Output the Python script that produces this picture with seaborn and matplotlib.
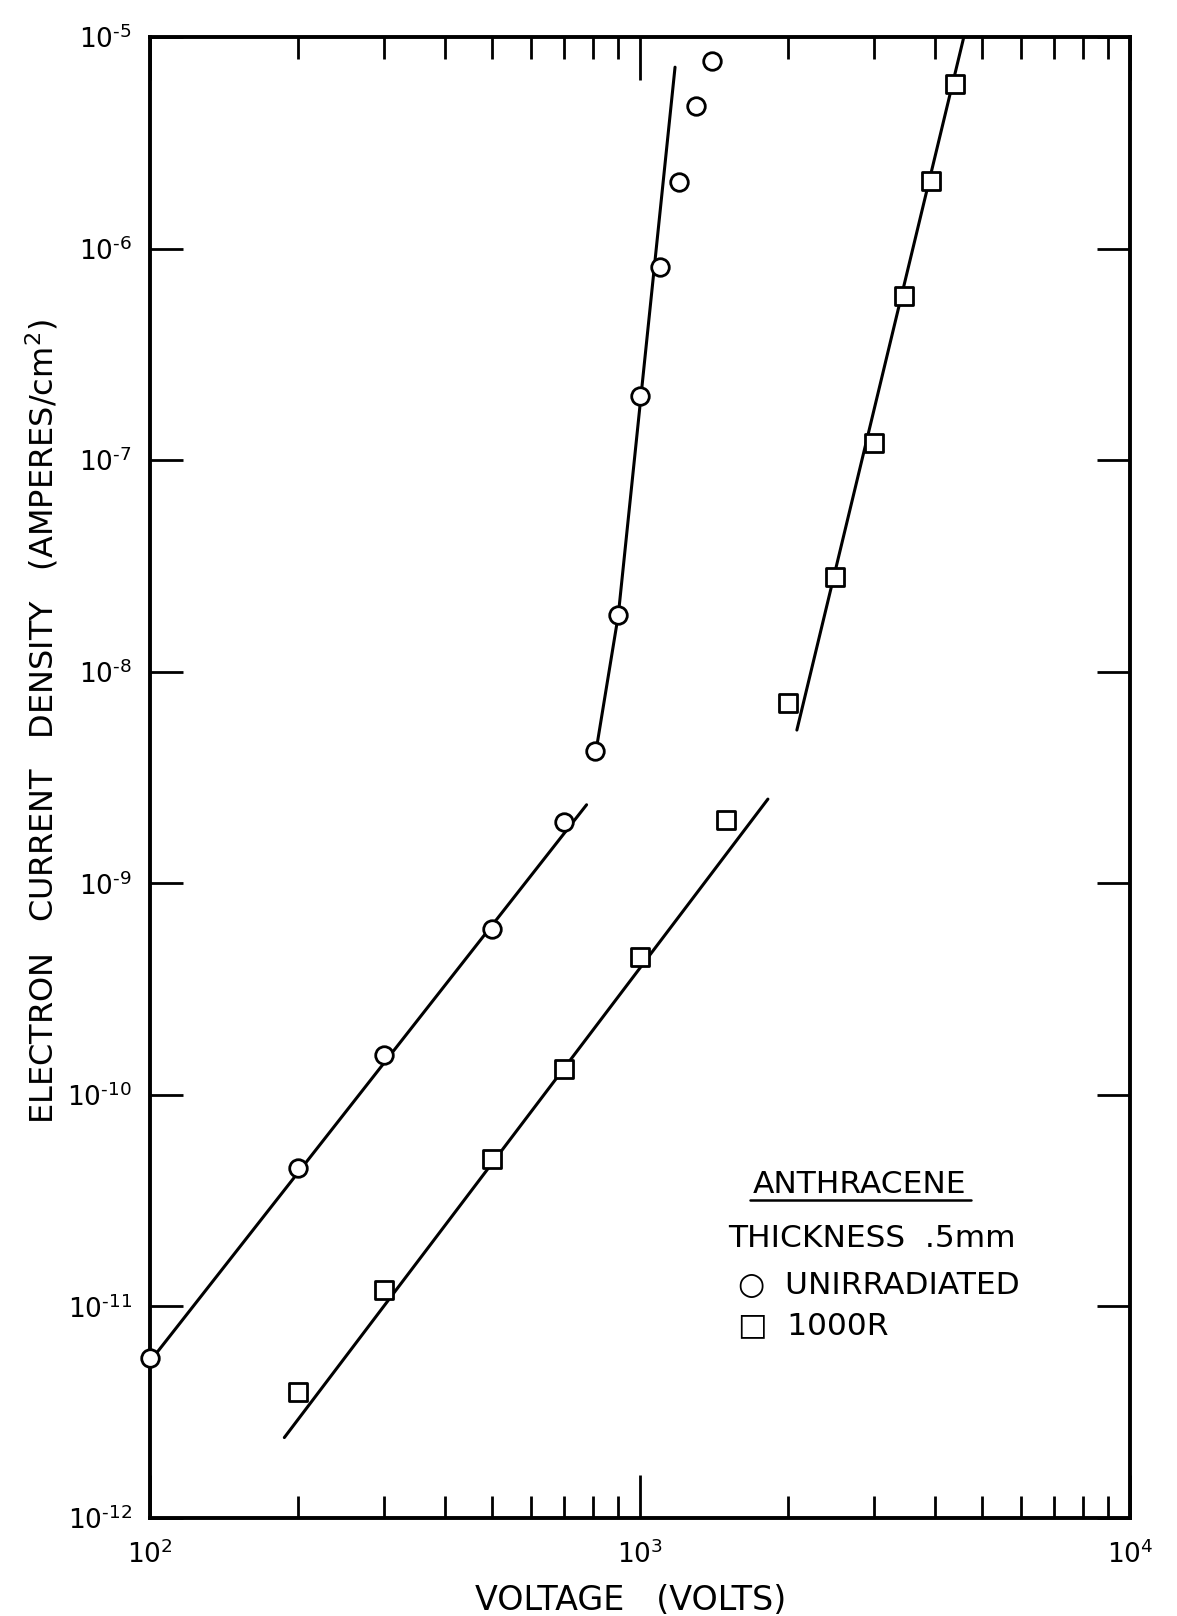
import matplotlib
matplotlib.use("Agg")
import matplotlib.pyplot as plt
import seaborn as sns
from matplotlib.ticker import FixedLocator, LogLocator, NullLocator
from matplotlib.lines import Line2D

# ---------------- data ----------------
unirr_volts = [100, 200, 300, 500, 700, 810, 900, 1000, 1100, 1200, 1300, 1400]
unirr_current = [5.7e-12, 4.5e-11, 1.55e-10, 6.1e-10, 1.95e-9, 4.2e-9,
                 1.85e-8, 2.0e-7, 8.2e-7, 2.07e-6, 4.7e-6, 7.7e-6]

irr_volts = [200, 300, 500, 700, 1000, 1500, 2000, 2500, 3000, 3450, 3930, 4400]
irr_current = [3.96e-12, 1.2e-11, 5.0e-11, 1.32e-10, 4.5e-10, 2.0e-9,
               7.15e-9, 2.8e-8, 1.2e-7, 5.96e-7, 2.08e-6, 6.0e-6]

# fitted lines (end points)
fit_unirr_low_v = [100, 778]
fit_unirr_low_j = [5.5e-12, 2.35e-9]
fit_unirr_high_v = [813, 903, 1179]
fit_unirr_high_j = [4.2e-9, 1.85e-8, 7.2e-6]
fit_irr_low_v = [188, 1824]
fit_irr_low_j = [2.4e-12, 2.5e-9]
fit_irr_high_v = [2090, 4580]
fit_irr_high_j = [5.3e-9, 1.0e-5]

x_ticks = [1e2, 1e3, 1e4]
x_tick_labels = [r"$10^{2}$", r"$10^{3}$", r"$10^{4}$"]
y_exponents = [-12, -11, -10, -9, -8, -7, -6, -5]
y_ticks = [10.0 ** e for e in y_exponents]
HYPHEN = "\u2010"
y_tick_labels = [r"$10^{" + HYPHEN + str(abs(e)) + "}$" for e in y_exponents]

# ---------------- style ----------------
sns.set_theme(style="white")
plt.rcParams["font.family"] = ["DejaVu Sans"]
plt.rcParams["mathtext.fontset"] = "dejavusans"
plt.rcParams["axes.edgecolor"] = "black"

fig = plt.figure(figsize=(11.77, 16.16), dpi=100)
ax = fig.add_axes([150 / 1177, 98 / 1616, 980 / 1177, 1481 / 1616])
ax.set_xscale("log")
ax.set_yscale("log")

line_kw = dict(color="black", linewidth=2.2, estimator=None, sort=False, ax=ax, legend=False)
sns.lineplot(x=fit_unirr_low_v, y=fit_unirr_low_j, **line_kw)
sns.lineplot(x=fit_unirr_high_v, y=fit_unirr_high_j, **line_kw)
sns.lineplot(x=fit_irr_low_v, y=fit_irr_low_j, **line_kw)
sns.lineplot(x=fit_irr_high_v, y=fit_irr_high_j, **line_kw)

sns.scatterplot(x=unirr_volts, y=unirr_current, marker="o", s=160,
                color="white", edgecolor="black", linewidth=2.0, zorder=5,
                ax=ax, legend=False, clip_on=False)
sns.scatterplot(x=irr_volts, y=irr_current, marker="s", s=150,
                color="white", edgecolor="black", linewidth=2.0, zorder=5,
                ax=ax, legend=False)

ax.set_xlim(1e2, 1e4)
ax.set_ylim(1e-12, 1e-5)

ax.xaxis.set_major_locator(FixedLocator(x_ticks))
ax.set_xticklabels(x_tick_labels)
ax.xaxis.set_minor_locator(LogLocator(base=10, subs=[2, 3, 4, 5, 6, 7, 8, 9]))
ax.yaxis.set_major_locator(FixedLocator(y_ticks))
ax.set_yticklabels(y_tick_labels)
ax.yaxis.set_minor_locator(NullLocator())

ax.tick_params(which="both", direction="in", top=True, right=True, bottom=True, left=True,
               color="black", labelcolor="black", labelsize=19)
ax.tick_params(axis="x", which="major", length=31, width=2, pad=16)
ax.tick_params(axis="x", which="minor", length=16, width=2)
ax.tick_params(axis="y", which="major", length=24, width=2, pad=13)

for sp in ax.spines.values():
    sp.set_linewidth(2.8)
    sp.set_color("black")

ax.set_xlabel("VOLTAGE   (VOLTS)", fontsize=24, color="black")
ax.xaxis.label.set_va("center")
ax.xaxis.set_label_coords(0.49, -0.0554)

ax.set_ylabel("ELECTRON   CURRENT   DENSITY   (AMPERES/cm$^{2}$)", fontsize=23, color="black")
ax.yaxis.label.set_va("center")
ax.yaxis.set_label_coords(-0.110, 0.538)

# annotation block
ax.text(0.724, 0.2249, "ANTHRACENE", transform=ax.transAxes, fontsize=22.5,
        ha="center", va="center", color="black")
ax.add_line(Line2D([0.612, 0.838], [0.2145, 0.2145], transform=ax.transAxes,
                   color="black", linewidth=1.8))
ax.text(0.590, 0.1884, "THICKNESS  .5mm", transform=ax.transAxes, fontsize=22.5,
        ha="left", va="center", color="black")
ax.text(0.600, 0.1567, "\u25CB  UNIRRADIATED", transform=ax.transAxes, fontsize=22.5,
        ha="left", va="center", color="black")
ax.text(0.600, 0.1296, "\u25A1  1000R", transform=ax.transAxes, fontsize=22.5,
        ha="left", va="center", color="black")

fig.savefig("out.png", dpi=100, facecolor="white")
